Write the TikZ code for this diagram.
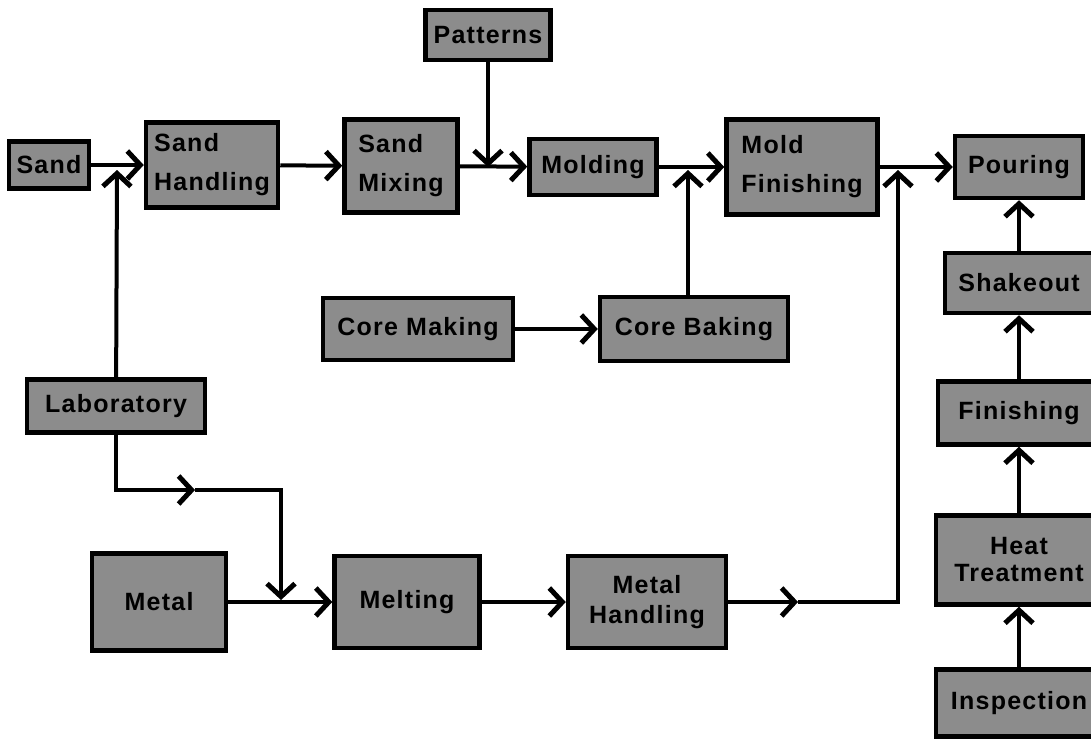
\documentclass[tikz,border=0pt]{standalone}
\usepackage{fontspec}
\setmainfont{Liberation Sans}[LetterSpace=5]
\usepackage{xcolor}
\usetikzlibrary{arrows.meta,positioning,calc}

\definecolor{boxgray}{gray}{0.55}

\tikzset{
    stage/.style={draw, line width=4.5pt, fill=boxgray, inner sep=0pt,
        font=\fontsize{25}{30}\selectfont\bfseries},
    flow/.style={line width=4pt, -{Straight Barb[length=13pt,width=28pt,line width=5pt]}},
}

\begin{document}
\begin{tikzpicture}[x=1pt, y=-1pt]
    \useasboundingbox (0,0) rectangle (1091,739);

    % top row
    \node[stage, minimum width=80, minimum height=47] (sand) at (49,165) {Sand};
    \node[stage, minimum width=132, minimum height=85, align=left] (sandh) at (212,165) {Sand\\[9pt]Handling};
    \node[stage, minimum width=113, minimum height=93, align=left] (sandm) at (401,166) {Sand\\[9pt]Mixing};
    \node[stage, minimum width=125, minimum height=50] (pat) at (488,35) {Patterns};
    \node[stage, minimum width=127, minimum height=56] (mold) at (593,167) {Molding};
    \node[stage, minimum width=151, minimum height=95, align=left] (mfin) at (802,167) {Mold\\[9pt]Finishing};
    \node[stage, minimum width=128, minimum height=62] (pour) at (1019,167) {Pouring};

    % cores
    \node[stage, minimum width=190, minimum height=62] (cmake) at (418,329) {Core Making};
    \node[stage, minimum width=188, minimum height=64] (cbake) at (694,329) {Core Baking};

    % metal
    \node[stage, minimum width=178, minimum height=53] (lab) at (116,406) {Laboratory};
    \node[stage, minimum width=134, minimum height=97] (metal) at (159,602) {Metal};
    \node[stage, minimum width=145, minimum height=92] (melt) at (407,602) {Melting};
    \node[stage, minimum width=158, minimum height=92, align=center] (mhand) at (647,602) {Metal\\[0pt]Handling};

    % right column
    \node[stage, minimum width=148, minimum height=60] (shake) at (1019,283) {Shakeout};
    \node[stage, minimum width=162, minimum height=63] (fin) at (1019,413) {Finishing};
    \node[stage, minimum width=166, minimum height=89, align=center] (heat) at (1019,560) {Heat\\[-3pt]Treatment};
    \node[stage, minimum width=166, minimum height=67] (insp) at (1019,703) {Inspection};

    % junction points
    \coordinate (labj) at (117,170);
    \coordinate (patj) at (488,167);
    \coordinate (cbj) at (688,170);
    \coordinate (mfj) at (898,170);
    \coordinate (labmid) at (195,490);
    \coordinate (meltj) at (281,600);
    \coordinate (mhmid) at (798,602);

    % connectors
    \draw[flow] (sand) -- (sandh);
    \draw[flow] (sandh) -- (sandm);
    \draw[flow] (sandm) -- (mold);
    \draw[flow] (mold) -- (mfin);
    \draw[flow] (mfin) -- (pour);
    \draw[flow] (lab) -- (labj);
    \draw[flow] (pat) -- (patj);
    \draw[flow] (cmake) -- (cbake);
    \draw[flow] (cbj |- cbake.north) -- (cbj);

    \draw[flow] (lab.south) |- (labmid);
    \draw[flow] (labmid) -| (meltj);
    \draw[flow] (metal) -- (melt);
    \draw[flow] (melt) -- (mhand);
    \draw[flow] (mhand) -- (mhmid);
    \draw[flow] (mhmid) -| (mfj);

    \draw[flow] (shake) -- (pour);
    \draw[flow] (fin) -- (shake);
    \draw[flow] (heat) -- (fin);
    \draw[flow] (insp) -- (heat);
\end{tikzpicture}
\end{document}
